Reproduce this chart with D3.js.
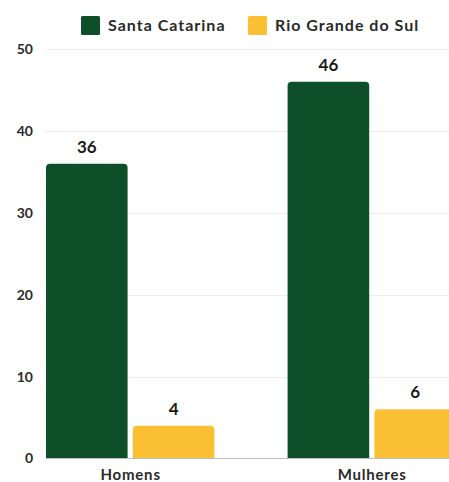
<!DOCTYPE html>
<html>
<head>
<meta charset="utf-8">
<script src="https://cdn.jsdelivr.net/npm/d3@7"></script>
<style>
  html, body { margin: 0; padding: 0; background: #fff; }
  svg { display: block; font-family: "Lato", "Open Sans", sans-serif; }
</style>
</head>
<body>
<svg id="chart" width="449" height="482"></svg>
<script>
// Categories, series and values
const categories = ["Homens", "Mulheres"];
const seriesNames = ["Santa Catarina", "Rio Grande do Sul"];
const santaCatarina = [36, 46];
const rioGrandeDoSul = [4, 6];
const yTicks = [0, 10, 20, 30, 40, 50];
const colors = ["#0c4f29", "#fbbf34"];

const seriesValues = [santaCatarina, rioGrandeDoSul];
const rows = categories.map((c, i) => ({
  category: c,
  values: seriesNames.map((s, j) => ({ series: s, idx: j, value: seriesValues[j][i] }))
}));

const W = 449, H = 482;
const plotTop = 49, plotBottom = 458.5, plotLeft = 46;
const svg = d3.select("#chart");

const y = d3.scaleLinear().domain([0, 50]).range([plotBottom, plotTop]);
const x0 = d3.scaleBand().domain(categories).range([plotLeft, 456]).paddingInner(0.303).paddingOuter(0);
const x1 = d3.scaleBand().domain(seriesNames).range([0, x0.bandwidth()]).paddingInner(0.06);

// Grid lines
svg.append("g")
  .selectAll("line")
  .data(yTicks.filter(t => t > 0))
  .join("line")
  .attr("x1", plotLeft).attr("x2", W)
  .attr("y1", d => Math.round(y(d)) + 0.5).attr("y2", d => Math.round(y(d)) + 0.5)
  .attr("stroke", "#ececec").attr("stroke-width", 1.2);

// Y axis labels
const yAxis = d3.axisLeft(y).tickValues(yTicks).tickSize(0).tickPadding(0);
const gy = svg.append("g").attr("transform", "translate(33,0)").call(yAxis);
gy.select(".domain").remove();
gy.selectAll("text")
  .attr("font-size", 14).attr("font-weight", 700).attr("fill", "#2a2a2a")
  .attr("font-family", "Lato, sans-serif");

// Rounded-top bar path
function barPath(x, yTop, w, h, r) {
  r = Math.min(r, h, w / 2);
  return `M${x},${yTop + h}V${yTop + r}Q${x},${yTop} ${x + r},${yTop}H${x + w - r}Q${x + w},${yTop} ${x + w},${yTop + r}V${yTop + h}Z`;
}

const clip = svg.append("clipPath").attr("id", "plotclip");
clip.append("rect").attr("x", 0).attr("y", 0).attr("width", W).attr("height", H);

const groups = svg.append("g").attr("clip-path", "url(#plotclip)")
  .selectAll("g.grp")
  .data(rows)
  .join("g")
  .attr("class", "grp")
  .attr("transform", d => `translate(${x0(d.category)},0)`);

groups.selectAll("path")
  .data(d => d.values)
  .join("path")
  .attr("d", d => barPath(x1(d.series), y(d.value), x1.bandwidth(), plotBottom - y(d.value), 4))
  .attr("fill", d => colors[d.idx]);

groups.selectAll("text.val")
  .data(d => d.values)
  .join("text")
  .attr("class", "val")
  .attr("x", d => x1(d.series) + x1.bandwidth() / 2)
  .attr("y", d => y(d.value) - 11)
  .attr("text-anchor", "middle")
  .attr("font-size", 17).attr("font-weight", 700).attr("fill", "#1a1a1a")
  .text(d => d.value);

// Baseline
svg.append("line")
  .attr("x1", plotLeft).attr("x2", W)
  .attr("y1", plotBottom).attr("y2", plotBottom)
  .attr("stroke", "#bdbdbd").attr("stroke-width", 1.2);

// X axis category labels
svg.append("g")
  .selectAll("text")
  .data(categories)
  .join("text")
  .attr("x", d => x0(d) + x0.bandwidth() / 2 + 0.4)
  .attr("y", 480)
  .attr("text-anchor", "middle")
  .attr("letter-spacing", 0.8)
  .attr("font-size", 15).attr("font-weight", 700).attr("fill", "#2a2a2a")
  .text(d => d);

// Legend
const legendPos = [81, 248];
const legend = svg.append("g")
  .selectAll("g")
  .data(seriesNames)
  .join("g")
  .attr("transform", (d, i) => `translate(${legendPos[i]},16)`);
legend.append("rect").attr("width", 19).attr("height", 19).attr("rx", 1.5)
  .attr("fill", (d, i) => colors[i]);
legend.append("text").attr("x", 27).attr("y", 15)
  .attr("letter-spacing", 1)
  .attr("font-size", 16).attr("font-weight", 700).attr("fill", "#2a2a2a")
  .text(d => d);
</script>
</body>
</html>
